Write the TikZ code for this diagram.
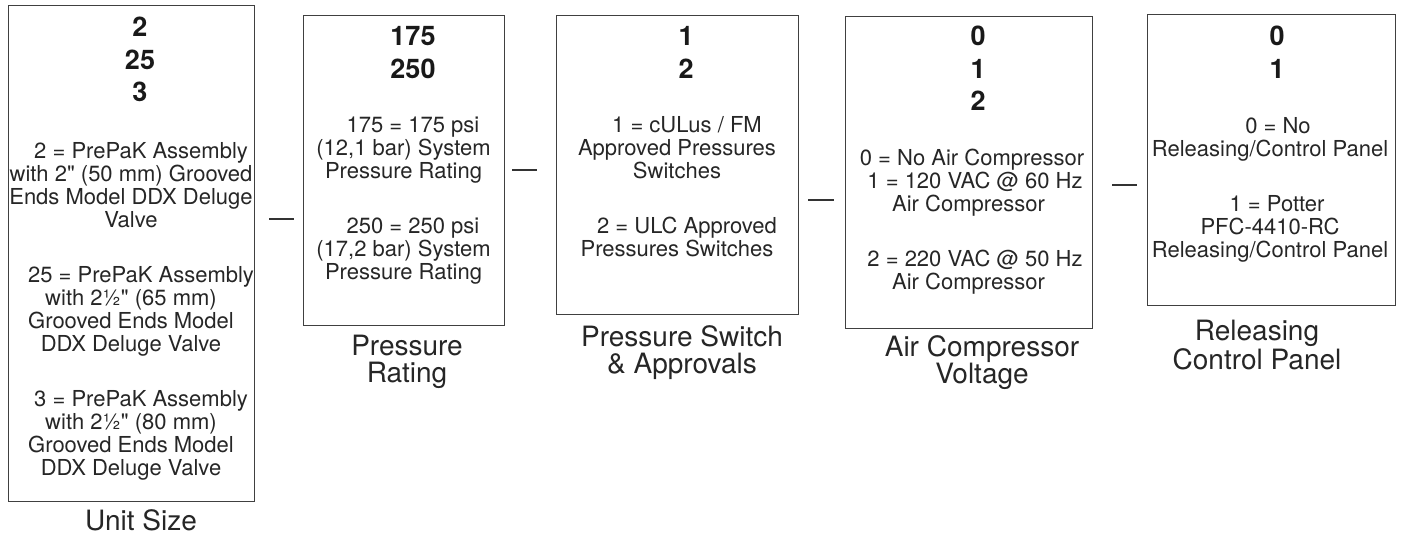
\documentclass[tikz,border=0pt]{standalone}
\usepackage{fontspec}
\setmainfont{TeX Gyre Heros}[Ligatures=TeXOff]
\begin{document}
\begin{tikzpicture}[x=0.5pt,y=-0.5pt,
    box/.style={draw=black!75,line width=0.6pt,inner sep=0pt,anchor=north west},
    code/.style={font=\fontsize{13.5}{16.25}\selectfont\bfseries,text=black!90,align=center,anchor=north,inner sep=0pt},
    desc/.style={font=\fontsize{11}{11.5}\selectfont,text=black!85,align=center,anchor=north,inner sep=0pt},
    caption/.style={font=\fontsize{14}{13.5}\selectfont,text=black!85,align=center,anchor=north,inner sep=0pt},
    sep/.style={draw=black!80,line width=0.7pt}]
    \useasboundingbox (0,0) rectangle (1403,536);

    \node[box,minimum width=123pt,minimum height=248pt] (unit) at (8,5) {};
    \node[code] (unit-c) at (140,17) {2\\25\\3};
    \node[desc] (unit-d) at (131,142) {\hspace*{10pt}2 = PrePaK Assembly\\with 2" (50 mm) Grooved\\Ends Model DDX Deluge\\Valve\\[16pt]
        \hspace*{10pt}25 = PrePaK Assembly\\with 2½" (65 mm)\\Grooved Ends Model\\DDX Deluge Valve\\[16pt]
        \hspace*{10pt}3 = PrePaK Assembly\\with 2½" (80 mm)\\Grooved Ends Model\\DDX Deluge Valve};
    \node[caption] (unit-t) at (141,509) {Unit Size};

    \node[box,minimum width=100.5pt,minimum height=155pt] (rate) at (303,15) {};
    \node[code] (rate-c) at (413,26) {175\\250};
    \node[desc] (rate-d) at (403.5,116) {\hspace*{9.5pt}175 = 175 psi\\(12,1 bar) System\\Pressure Rating\\[16pt]
        \hspace*{9.5pt}250 = 250 psi\\(17,2 bar) System\\Pressure Rating};
    \node[caption] (rate-t) at (407,335) {Pressure\\Rating};

    \node[box,minimum width=121pt,minimum height=149.5pt] (press) at (556,15) {};
    \node[code] (press-c) at (686,26) {1\\2};
    \node[desc] (press-d) at (677,116) {\hspace*{10pt}1 = cULus / FM\\Approved Pressures\\Switches\\[16pt]
        \hspace*{10pt}2 = ULC Approved\\Pressures Switches};
    \node[caption] (press-t) at (682,325) {Pressure Switch\\\& Approvals};

    \node[box,minimum width=123.5pt,minimum height=156pt] (comp) at (845,16) {};
    \node[code] (comp-c) at (978,26) {0\\1\\2};
    \node[desc] (comp-d) at (968.5,149) {\hspace*{3.5pt}0 = No Air Compressor\\\hspace*{6.5pt}1 = 120 VAC @ 60 Hz\\Air Compressor\\[16pt]
        \hspace*{6.5pt}2 = 220 VAC @ 50 Hz\\Air Compressor};
    \node[caption] (comp-t) at (982,335) {Air Compressor\\Voltage};

    \node[box,minimum width=124pt,minimum height=145.5pt] (panel) at (1147,14) {};
    \node[code] (panel-c) at (1277,26) {0\\1};
    \node[desc] (panel-d) at (1270,117) {\hspace*{8pt}0 = No\\Releasing/Control Panel\\[16pt]
        \hspace*{7pt}1 = Potter\\PFC-4410-RC\hspace*{10pt}\\Releasing/Control Panel};
    \node[caption] (panel-t) at (1257,320) {Releasing\\Control Panel};

    \coordinate (d1a) at (269,219); \coordinate (d1b) at (294,219);
    \coordinate (d2a) at (512,170); \coordinate (d2b) at (537,170);
    \coordinate (d3a) at (808,200); \coordinate (d3b) at (834,200);
    \coordinate (d4a) at (1112,185); \coordinate (d4b) at (1137,185);

    \path [sep] (d1a) edge (d1b);
    \path [sep] (d2a) edge (d2b);
    \path [sep] (d3a) edge (d3b);
    \path [sep] (d4a) edge (d4b);
\end{tikzpicture}
\end{document}
